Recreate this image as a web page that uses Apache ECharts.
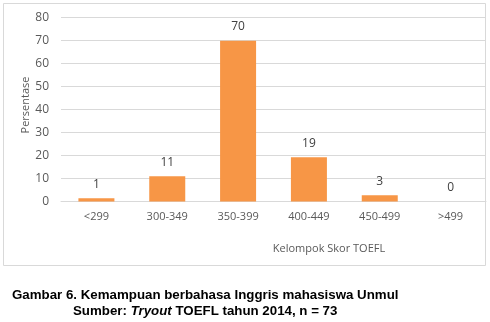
<!DOCTYPE html>
<html>
<head>
<meta charset="utf-8">
<script src="https://cdn.jsdelivr.net/npm/echarts@6/dist/echarts.min.js"></script>
<style>
html,body{margin:0;padding:0;background:#fff;}
#c{width:490px;height:322px;}
</style>
</head>
<body>
<div id="c"></div>
<script>
var categories = ['<299', '300-349', '350-399', '400-449', '450-499', '>499'];
var values = [1.4, 11.0, 69.9, 19.2, 2.7, 0];
var yTicks = [0, 10, 20, 30, 40, 50, 60, 70, 80];
var yTitle = 'Persentase';
var xTitle = 'Kelompok Skor TOEFL';
var caption1 = 'Gambar 6. Kemampuan berbahasa Inggris mahasiswa Unmul';

var chart = echarts.init(document.getElementById('c'), null, {renderer: 'canvas'});
var font = '"Open Sans", sans-serif';
chart.setOption({
  animation: false,
  backgroundColor: '#fff',
  grid: {left: 61, right: 4, top: 17.5, bottom: 120.5, containLabel: false},
  xAxis: {
    type: 'category',
    data: categories,
    axisLine: {show: true, lineStyle: {color: '#d9d9d9'}},
    axisTick: {show: false},
    axisLabel: {color: '#595959', fontFamily: font, fontSize: 11, margin: 10}
  },
  yAxis: {
    type: 'value',
    min: yTicks[0], max: yTicks[yTicks.length - 1], interval: 10,
    axisLine: {show: false},
    axisTick: {show: false},
    splitLine: {lineStyle: {color: '#d9d9d9'}},
    axisLabel: {color: '#595959', fontFamily: font, fontSize: 12, margin: 12}
  },
  series: [{
    type: 'bar',
    data: values,
    barWidth: 36,
    itemStyle: {color: '#F79646'},
    label: {
      show: true, position: 'top', distance: 8,
      color: '#404040', fontFamily: font, fontSize: 12,
      formatter: function (p) { return Math.round(p.value); }
    }
  }],
  graphic: [
    {type: 'rect', shape: {x: 3.5, y: 3.5, width: 482, height: 262}, style: {fill: 'none', stroke: '#d9d9d9', lineWidth: 1}, z: -1},
    {type: 'text', x: 26, y: 105, rotation: Math.PI / 2,
      style: {text: yTitle, fill: '#595959', font: '11px "Open Sans", sans-serif', align: 'center', verticalAlign: 'middle'}},
    {type: 'text', x: 329, y: 249,
      style: {text: xTitle, fill: '#595959', font: '11px "Open Sans", sans-serif', align: 'center', verticalAlign: 'middle'}},
    {type: 'text', x: 12, y: 295,
      style: {text: caption1, fill: '#000', font: 'bold 13.3px "Liberation Sans", Arial, sans-serif', align: 'left', verticalAlign: 'middle'}},
    {type: 'text', x: 73, y: 311,
      style: {
        text: '{a|Sumber: }{b|Tryout}{a| TOEFL tahun 2014, n = 73}',
        align: 'left', verticalAlign: 'middle',
        rich: {
          a: {fill: '#000', font: 'bold 13.3px "Liberation Sans", Arial, sans-serif'},
          b: {fill: '#000', font: 'italic bold 13.3px "Liberation Sans", Arial, sans-serif'}
        }
      }}
  ]
});
</script>
</body>
</html>
